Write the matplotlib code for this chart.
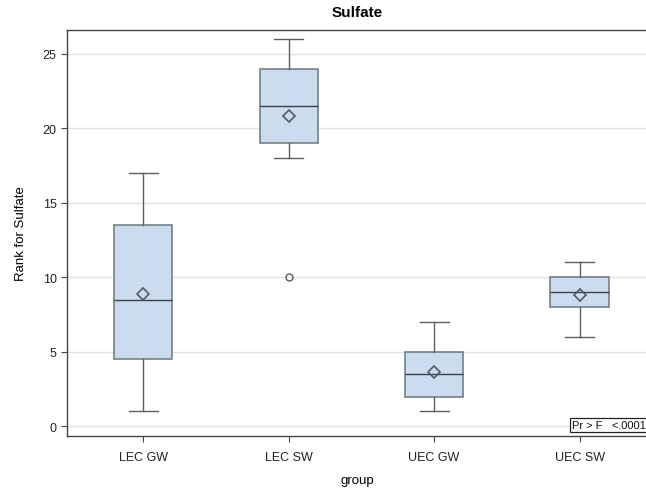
import matplotlib
matplotlib.use("Agg")
import matplotlib.pyplot as plt

plt.rcParams['font.family'] = ['Liberation Sans', 'DejaVu Sans']

groups = ["LEC GW", "LEC SW", "UEC GW", "UEC SW"]
whislo = [1, 18, 1, 6]
q1 = [4.5, 19, 2, 8]
med = [8.5, 21.5, 3.5, 9]
q3 = [13.5, 24, 5, 10]
whishi = [17, 26, 7, 11]
means = [8.9, 20.8, 3.65, 8.8]
outliers = [[], [10], [], []]
yticks = [0, 5, 10, 15, 20, 25]
p_text = "Pr > F   <.0001"

stats = []
for i, g in enumerate(groups):
    stats.append(dict(label=g, whislo=whislo[i], q1=q1[i], med=med[i], q3=q3[i],
                      whishi=whishi[i], mean=means[i], fliers=outliers[i]))

fig = plt.figure(figsize=(6.46, 4.89), dpi=100)
ax = fig.add_axes([67/646, 1 - 437/489, 1.003 - 67/646, (437 - 31)/489])

edge = "#6b7580"
ax.bxp(stats, positions=range(len(groups)), widths=0.4, showmeans=True,
       patch_artist=True, manage_ticks=False,
       boxprops=dict(facecolor="#cbdcee", edgecolor=edge, linewidth=1.1),
       medianprops=dict(color="#3a3f46", linewidth=1.0),
       whiskerprops=dict(color="#5a5f66", linewidth=1.0),
       capprops=dict(color="#5a5f66", linewidth=1.0),
       capwidths=0.2,
       meanprops=dict(marker="D", markerfacecolor="none", markeredgecolor="#555a61",
                      markersize=6.5, markeredgewidth=1.2),
       flierprops=dict(marker="o", markerfacecolor="none", markeredgecolor="#555a61",
                       markersize=5, markeredgewidth=1.0))

ax.set_xlim(-0.524, 3.47)
ax.set_ylim(-0.65, 26.6)
ax.set_xticks(range(len(groups)))
ax.set_xticklabels(groups)
ax.set_yticks(yticks)
ax.yaxis.grid(True, color="#e3e3e3", linewidth=1.0)
ax.set_axisbelow(True)
ax.tick_params(labelsize=9, colors="#222222", length=4, color="#444444")
ax.tick_params(axis="x", pad=6.5)
for s in ax.spines.values():
    s.set_color("#444444")
    s.set_linewidth(1.0)

ax.set_title("Sulfate", fontsize=11, fontweight="bold", pad=10)
ax.set_ylabel("Rank for Sulfate", fontsize=9.5, labelpad=11)
ax.set_xlabel("group", fontsize=9.5, labelpad=8)

ax.text(0.997, 0.015, p_text, transform=ax.transAxes, ha="right", va="bottom",
        fontsize=8, color="#111111",
        bbox=dict(boxstyle="square,pad=0.2", facecolor="white", edgecolor="#222222",
                  linewidth=0.9))

fig.savefig("out.png", dpi=100)
